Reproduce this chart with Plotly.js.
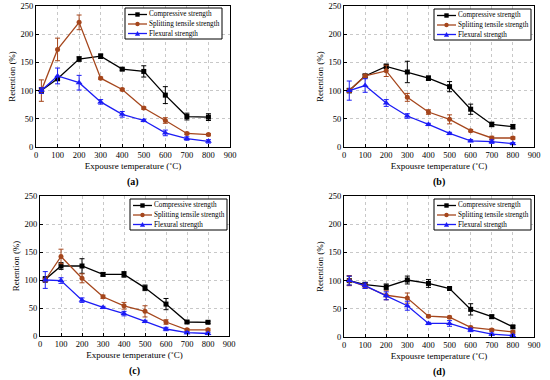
<!DOCTYPE html>
<html>
<head>
<meta charset="utf-8">
<script src="https://cdn.plot.ly/plotly-3.0.1.min.js"></script>
<style>html,body{margin:0;padding:0;background:#fff;}#chart{width:550px;height:380px;}</style>
</head>
<body>
<div id="chart"></div>
<script>
const temps = [25, 100, 200, 300, 400, 500, 600, 700, 800];
const seriesNames = ["Compressive strength", "Splitting tensile strength", "Flexural strength"];
const panelLabels = ["(a)", "(b)", "(c)", "(d)"];
const xTitle = "Expousre temperature (\u02DAC)";
const yTitle = "Retention (%)";

// Panel (a)
const aComp = [100, 121, 156, 161, 138, 134, 92, 54, 53];
const aCompErr = [5, 3, 4, 4, 2, 10, 15, 6, 6];
const aSplit = [100, 173, 221, 122, 102, 69, 47, 24, 22];
const aSplitErr = [19, 20, 13, 2, 2, 2, 5, 2, 2];
const aFlex = [100, 126, 114, 80, 58, 47, 25, 15, 10];
const aFlexErr = [5, 14, 13, 4, 5, 2, 5, 3, 3];

// Panel (b)
const bComp = [100, 126, 143, 133, 122, 107, 67, 40, 36];
const bCompErr = [4, 3, 4, 19, 4, 9, 9, 4, 4];
const bSplit = [100, 126, 135, 88, 62, 49, 29, 16, 16];
const bSplitErr = [3, 3, 10, 7, 4, 8, 2, 3, 2];
const bFlex = [100, 109, 78, 55, 40, 24, 11, 9.5, 6];
const bFlexErr = [17, 12, 6, 4, 2, 2, 2, 3, 2];

// Panel (c)
const cComp = [101, 125, 125, 110, 110, 86, 57, 25, 24.5];
const cCompErr = [5, 6, 13, 3, 5, 5, 10, 2, 2];
const cSplit = [100, 142, 103, 70, 54, 44, 25, 11, 11];
const cSplitErr = [3, 13, 8, 3, 6, 10, 4, 2, 2];
const cFlex = [100, 99, 64, 51, 40, 26, 12.5, 6, 4.5];
const cFlexErr = [15, 5, 4, 2, 4, 2, 3, 2, 2];

// Panel (d)
const dComp = [100, 93, 89, 101, 95, 86, 49, 36, 18];
const dCompErr = [8, 4, 5, 7, 7, 2, 10, 3, 2];
const dSplit = [100, 90, 74, 69, 37, 35, 17, 12.5, 9];
const dSplitErr = [9, 4, 8, 9, 2, 2, 2, 2, 2];
const dFlex = [100, 91, 73, 55.5, 24, 24, 12.5, 5, 2.5];
const dFlexErr = [8, 5, 7, 8, 2, 5, 3, 2, 2];

const colors = ["#000000", "#a5461c", "#1c1cf5"];
const symbols = ["square", "circle", "triangle-up"];
const panels = [
  [aComp, aCompErr, aSplit, aSplitErr, aFlex, aFlexErr],
  [bComp, bCompErr, bSplit, bSplitErr, bFlex, bFlexErr],
  [cComp, cCompErr, cSplit, cSplitErr, cFlex, cFlexErr],
  [dComp, dCompErr, dSplit, dSplitErr, dFlex, dFlexErr]
];

const FONT = "Liberation Serif";
const W = 550, H = 380;
const px = v => v / W;
const py = v => 1 - v / H;

const traces = [];
panels.forEach((p, pi) => {
  const ax = pi === 0 ? "" : String(pi + 1);
  for (let s = 0; s < 3; s++) {
    traces.push({
      type: "scatter", mode: "lines+markers",
      x: temps, y: p[s * 2],
      name: seriesNames[s], showlegend: false,
      xaxis: "x" + ax, yaxis: "y" + ax,
      line: {color: colors[s], width: 1.3},
      marker: {symbol: symbols[s], size: s === 2 ? 6 : 5, color: colors[s]},
      error_y: {type: "data", array: p[s * 2 + 1], visible: true, color: colors[s], thickness: 1, width: 2.5}
    });
  }
});

// panel geometry in pixels [left, right, top, bottom]
const geo = [[36, 230, 6, 147], [344, 534, 6, 147], [40, 229, 196, 336], [344, 534, 196, 337]];
const legPos = [[125, 8], [434, 9], [130, 199], [434, 199]];
const layout = {
  width: W, height: H,
  margin: {l: 0, r: 0, t: 0, b: 0},
  paper_bgcolor: "#fff", plot_bgcolor: "#fff",
  font: {family: FONT, size: 8, color: "#000"},
  showlegend: false,
  annotations: [], shapes: []
};
geo.forEach((g, i) => {
  const ax = i === 0 ? "" : String(i + 1);
  const common = {
    showline: true, linecolor: "#000", linewidth: 1, mirror: true,
    ticks: "inside", ticklen: 3, tickcolor: "#000",
    showgrid: true, gridcolor: "#c8c8c8", griddash: "dot", gridwidth: 1,
    zeroline: false, tickfont: {family: FONT, size: 8.5, color: "#000"}
  };
  layout["xaxis" + ax] = Object.assign({}, common, {
    domain: [px(g[0]), px(g[1])], range: [0, 900], dtick: 100, tick0: 0, anchor: "y" + ax,
    title: {text: xTitle, font: {family: FONT, size: 9}, standoff: 3}
  });
  layout["yaxis" + ax] = Object.assign({}, common, {
    domain: [py(g[3]), py(g[2])], range: [0, 250], dtick: 50, tick0: 0, anchor: "x" + ax,
    title: {text: yTitle, font: {family: FONT, size: 9}, standoff: 3}
  });
  // panel label
  layout.annotations.push({
    xref: "paper", yref: "paper", x: px((g[0] + g[1]) / 2), y: py(g[3] + 35),
    text: "<b>" + panelLabels[i] + "</b>", showarrow: false,
    font: {family: FONT, size: 10}, xanchor: "center", yanchor: "middle"
  });
  // legend box drawn with shapes and annotations
  const L = legPos[i][0], T = legPos[i][1], BW = 97, BH = 31;
  layout.shapes.push({type: "rect", xref: "paper", yref: "paper",
    x0: px(L), x1: px(L + BW), y0: py(T + BH), y1: py(T),
    line: {color: "#000", width: 1}, fillcolor: "#fff", layer: "above"});
  for (let s = 0; s < 3; s++) {
    const cy = T + 6.5 + s * 9.5;
    const mx = L + 12.5;
    layout.shapes.push({type: "line", xref: "paper", yref: "paper",
      x0: px(L + 3), x1: px(L + 22), y0: py(cy), y1: py(cy),
      line: {color: colors[s], width: 1.3}, layer: "above"});
    if (s === 0) {
      layout.shapes.push({type: "rect", xref: "paper", yref: "paper",
        x0: px(mx - 2.2), x1: px(mx + 2.2), y0: py(cy + 2.2), y1: py(cy - 2.2),
        line: {width: 0}, fillcolor: colors[s], layer: "above"});
    } else if (s === 1) {
      layout.shapes.push({type: "circle", xref: "paper", yref: "paper",
        x0: px(mx - 2.2), x1: px(mx + 2.2), y0: py(cy + 2.2), y1: py(cy - 2.2),
        line: {width: 0}, fillcolor: colors[s], layer: "above"});
    } else {
      const p1 = `${px(mx - 2.6)},${py(cy + 2.2)}`, p2 = `${px(mx + 2.6)},${py(cy + 2.2)}`, p3 = `${px(mx)},${py(cy - 2.6)}`;
      layout.shapes.push({type: "path", xref: "paper", yref: "paper",
        path: `M${p1} L${p2} L${p3} Z`,
        line: {width: 0}, fillcolor: colors[s], layer: "above"});
    }
    layout.annotations.push({
      xref: "paper", yref: "paper", x: px(L + 23), y: py(cy),
      text: seriesNames[s], showarrow: false, xanchor: "left", yanchor: "middle",
      font: {family: FONT, size: 7.2, color: "#000"}, borderpad: 0
    });
  }
});

Plotly.newPlot("chart", traces, layout, {displayModeBar: false, staticPlot: true});
</script>
</body>
</html>
